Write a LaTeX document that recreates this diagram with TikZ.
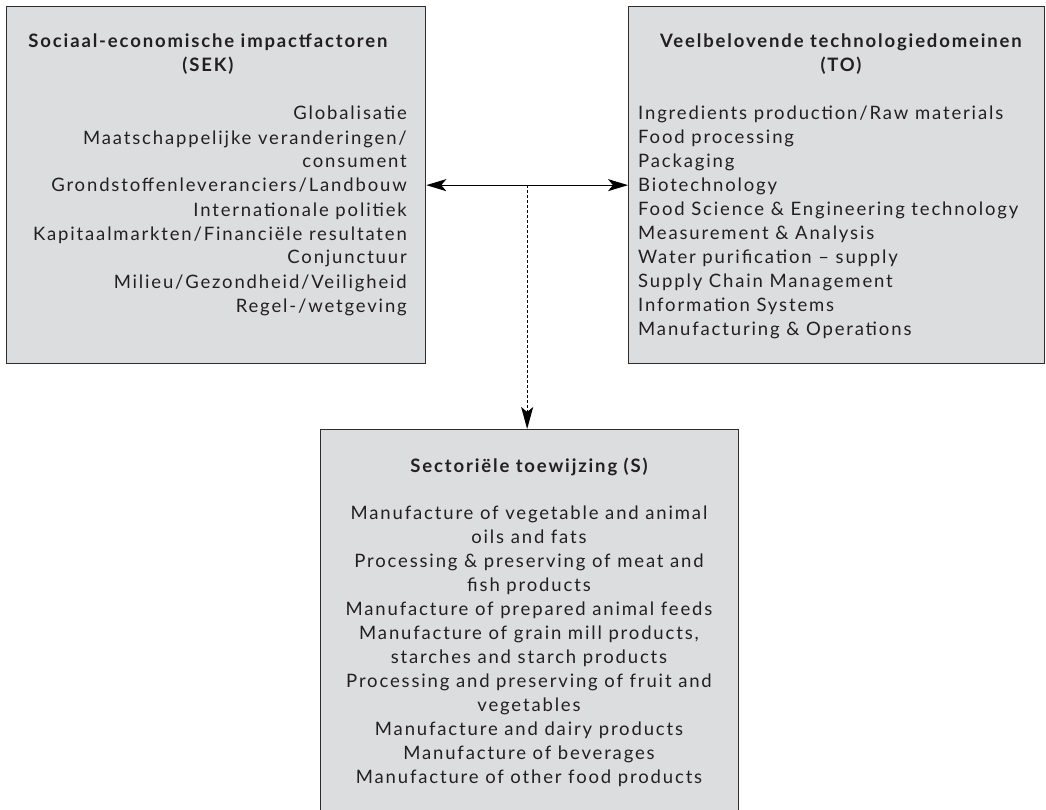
\documentclass[tikz,border=0pt]{standalone}
\usepackage{fontspec}
\setmainfont{Lato}[LetterSpace=10]
\usetikzlibrary{arrows.meta,calc}
\definecolor{boxfill}{RGB}{220,221,223}
\definecolor{boxline}{RGB}{45,45,45}
\definecolor{txt}{RGB}{35,31,32}
\tikzset{
  panel/.style={draw=boxline, fill=boxfill, line width=1.3pt, inner sep=0pt},
  body/.style={inner sep=0pt, text=txt, font=\fontsize{18.5pt}{24pt}\selectfont},
  head/.style={inner sep=0pt, text=txt, font=\bfseries\fontsize{18.5pt}{24pt}\selectfont, align=center},
  link/.style={line width=1.2pt, draw=black, {Stealth[length=20pt,width=12pt,inset=5pt]}-{Stealth[length=20pt,width=12pt,inset=5pt]}},
  dlink/.style={line width=1.1pt, draw=black, dash pattern=on 3pt off 2pt, -{Stealth[length=22pt,width=12pt,inset=5pt]}}
}
\begin{document}
\begin{tikzpicture}[x=1pt,y=-1pt]
\useasboundingbox (0,0) rectangle (1046,810);
\path[fill=white] (0,0) rectangle (1046,810);
% boxes
\node[panel, anchor=north west, minimum width=419pt, minimum height=357pt] (sek) at (6,6) {};
\node[panel, anchor=north west, minimum width=416pt, minimum height=357pt] (to) at (628,6) {};
\node[panel, anchor=north west, minimum width=418pt, minimum height=400pt] (s) at (320,429) {};
% titles
\node[head, anchor=base] (sekh) at (208,72) {Sociaal-economische impactfactoren\\(SEK)};
\node[head, anchor=base] (toh) at (841,72) {Veelbelovende technologiedomeinen\\(TO)};
\node[head, anchor=base] (sh) at (529,472) {Sectoriële toewijzing (S)};
% bodies
\node[body, align=right, anchor=base east] (sekb) at (407,312) {Globalisatie\\Maatschappelijke veranderingen/\\consument\\Grondstoffenleveranciers/Landbouw\\Internationale politiek\\Kapitaalmarkten/Financiële resultaten\\Conjunctuur\\Milieu/Gezondheid/Veiligheid\\Regel-/wetgeving};
\node[body, align=left, anchor=base west] (tob) at (638,335) {Ingredients production/Raw materials\\Food processing\\Packaging\\Biotechnology\\Food Science \& Engineering technology\\Measurement \& Analysis\\Water purification – supply\\Supply Chain Management\\Information Systems\\Manufacturing \& Operations};
\node[body, align=center, anchor=base] (sb) at (529,783) {Manufacture of vegetable and animal\\oils and fats\\Processing \& preserving of meat and\\fish products\\Manufacture of prepared animal feeds\\Manufacture of grain mill products,\\starches and starch products\\Processing and preserving of fruit and\\vegetables\\Manufacture and dairy products\\Manufacture of beverages\\Manufacture of other food products};
% connectors
\draw[link] (sek.east) -- (to.west);
\coordinate (mid) at ($(sek.east)!0.5!(to.west)$);
\draw[dlink] (mid) -- (mid |- s.north);
\end{tikzpicture}
\end{document}
